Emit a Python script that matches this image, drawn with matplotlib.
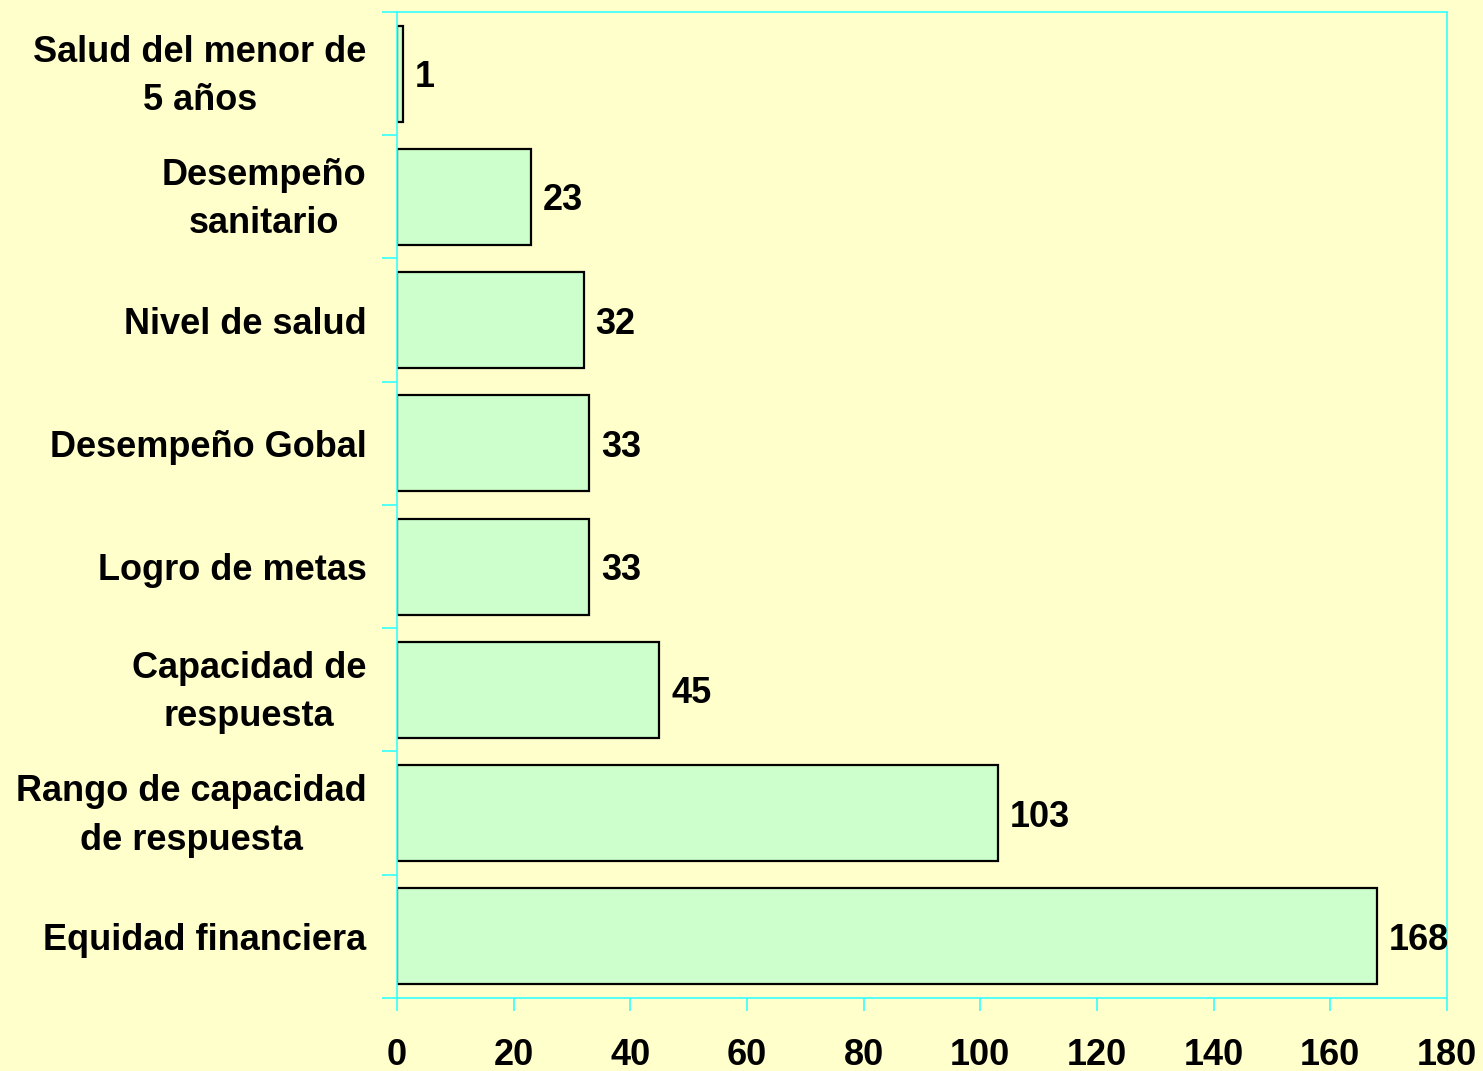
import matplotlib
matplotlib.use("Agg")
import matplotlib.pyplot as plt
import matplotlib.transforms as mtransforms
import numpy as np

### Data
categories = ["Salud del menor de\n5 años", "Desempeño\nsanitario", "Nivel de salud",
              "Desempeño Gobal", "Logro de metas", "Capacidad de\nrespuesta",
              "Rango de capacidad\nde respuesta", "Equidad financiera"]
values = [1, 23, 32, 33, 33, 45, 103, 168]
xticks = [0, 20, 40, 60, 80, 100, 120, 140, 160, 180]

plt.rcParams["font.family"] = ["Liberation Sans", "DejaVu Sans"]
plt.rcParams["font.weight"] = "bold"

bg = "#FFFFCC"
edge = "#33FFFF"
fs = 26

fig = plt.figure(figsize=(14.83, 10.71), dpi=100, facecolor=bg)
ax = fig.add_axes([0.2677, 0.0682, 0.708, 0.9206], facecolor=bg)

y = np.arange(len(categories))
ax.barh(y, values, height=0.78, color="#CCFFCC", edgecolor="black", linewidth=1.6)
ax.set_ylim(len(categories) - 0.5, -0.5)
ax.set_xlim(0, 180)

### Value labels
for yi, v in zip(y, values):
    ax.text(v + 2, yi, str(v), ha="left", va="center_baseline", fontsize=fs, fontweight="bold")

### Axes styling
for s in ax.spines.values():
    s.set_color(edge)
    s.set_linewidth(1.2)
ax.set_xticks(xticks)
ax.set_xticklabels([str(t) for t in xticks], fontsize=fs, fontweight="bold")
ax.tick_params(axis="x", direction="out", length=9, width=1.2, color=edge, pad=20)
ax.set_yticks(y)
ax.set_yticklabels(categories, fontsize=fs, fontweight="bold", multialignment="center")
ax.tick_params(axis="y", which="major", length=0, pad=22)
ax.set_yticks(np.arange(-0.5, len(categories)), minor=True)
ax.tick_params(axis="y", which="minor", direction="out", length=11, width=1.2, color=edge)
shift_up = mtransforms.ScaledTranslation(0, 0.08, fig.dpi_scale_trans)
for lab in ax.get_yticklabels():
    lab.set_linespacing(1.5)
    if "\n" in lab.get_text():
        lab.set_transform(lab.get_transform() + shift_up)

plt.savefig("out.png", dpi=100, facecolor=bg)
